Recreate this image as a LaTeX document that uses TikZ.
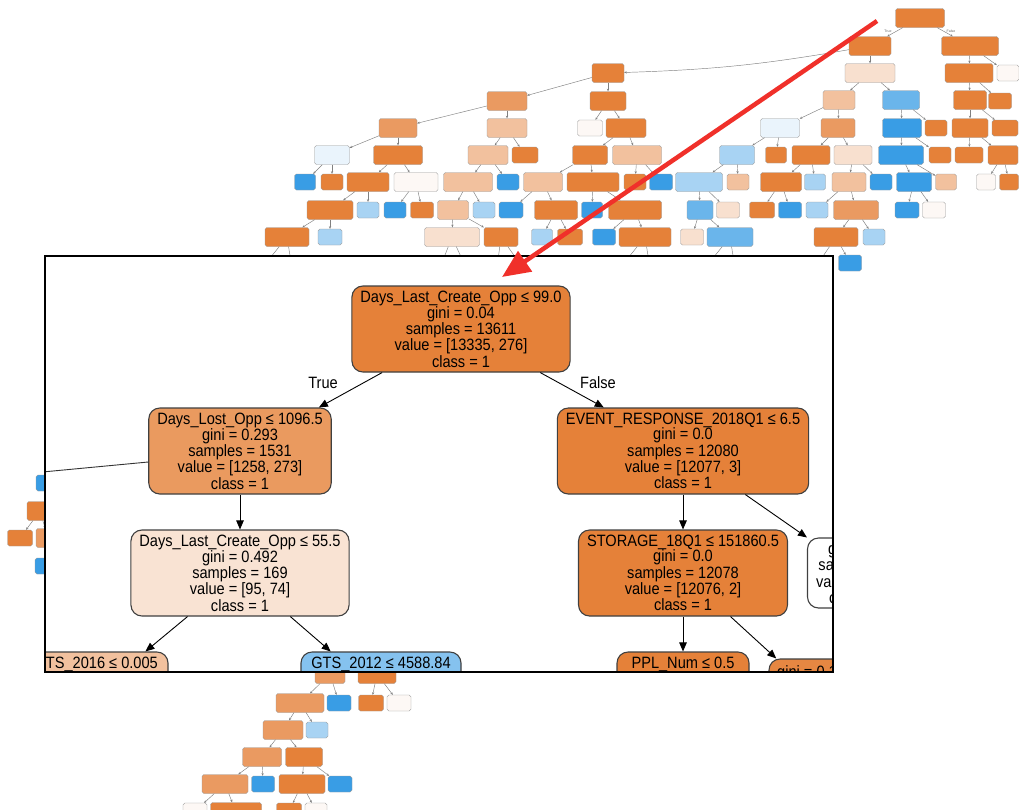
\documentclass[tikz,border=0pt]{standalone}
\usepackage{fontspec}
\setmainfont{Liberation Sans}
\newfontfamily\bigff{Liberation Sans}[FakeStretch=0.89]
\usetikzlibrary{arrows.meta}
\definecolor{cO}{HTML}{E58139}
\definecolor{cO2}{HTML}{EA9A61}
\definecolor{cO3}{HTML}{F2C19E}
\definecolor{cO4}{HTML}{F8E0CF}
\definecolor{cW}{HTML}{FDF8F5}
\definecolor{cB}{HTML}{399DE5}
\definecolor{cB2}{HTML}{6AB5EB}
\definecolor{cB3}{HTML}{A8D3F3}
\definecolor{cB4}{HTML}{EAF4FC}
\definecolor{cLa}{HTML}{EA9A5F}
\definecolor{cLc}{HTML}{F9E3D3}
\definecolor{cLf}{HTML}{F2C19E}
\definecolor{cLg}{HTML}{85C2EF}
\definecolor{cLi}{HTML}{E68742}
\definecolor{redc}{HTML}{F0302A}
\newcommand{\bigf}{\bigff\fontsize{16.4pt}{15.2pt}\selectfont}
\newcommand{\mytn}[5]{\node[tn,minimum width=#4pt,fill=#5] (#1) at (#2,#3) {};}
\newcommand{\mytl}[5]{\node[tlf,minimum width=#4pt,fill=#5] (#1) at (#2,#3) {};}
\newcommand{\myte}[2]{\draw[tedge] (#1) -- (#2);}
\begin{document}
\begin{tikzpicture}[x=1pt,y=-1pt,
  tn/.style={rectangle, rounded corners=1.8pt, draw=black!40, line width=0.35pt, minimum height=19pt, inner sep=0pt},
  tlf/.style={tn, minimum height=16pt},
  tedge/.style={draw=black!50, line width=0.45pt, -{Stealth[length=2.6pt,width=2.2pt]}},
  bn/.style={rectangle, draw=black!75, line width=1.1pt, rounded corners=11pt, align=center, inner xsep=8.5pt, inner ysep=3pt, font=\bigf, minimum height=86pt},
  btx/.style={font=\bigf, inner sep=0pt},
  bedge/.style={draw=black, line width=0.9pt, -{Triangle[length=9pt,width=7.5pt]}},
  bline/.style={draw=black!80, line width=0.9pt},
  tlab/.style={font=\fontsize{3.5pt}{4pt}\selectfont, text=black!60, inner sep=0pt},
  redarrow/.style={draw=redc, line width=4.5pt, -{Triangle[length=28pt,width=24pt]}}
]
\useasboundingbox (0,0) rectangle (1019,809);
\fill[white] (0,0) rectangle (1019,809);
% ---------- small background tree: right part ----------
\mytn{t0}{920}{18}{49}{cO}
\mytn{tA}{870}{46}{42}{cO}
\mytn{tB}{970}{46}{57}{cO}
\mytn{tC}{870}{73}{50}{cO4}
\mytn{tD}{969}{73}{48}{cO}
\mytl{tE}{1008}{73}{22}{cW}
\mytn{tF}{839}{100}{32}{cO3}
\mytn{tG}{901}{100}{37}{cB2}
\mytn{tH}{970}{100}{33}{cO}
\mytl{tI}{1000}{101}{23}{cO}
\mytn{tV}{780}{128}{39}{cB4}
\mytn{tW}{838}{128}{34}{cO2}
\mytn{tX}{902}{128}{39}{cB}
\mytl{tY}{936}{128}{22}{cO}
\mytn{tHa}{970}{128}{36}{cO}
\mytl{tHb}{1005}{128}{26}{cO}
\mytn{ta1}{737}{155}{35}{cB3}
\mytl{ta2}{776}{155}{21}{cO}
\mytn{ta3}{811}{155}{38}{cO}
\mytn{ta4}{853}{155}{38}{cO4}
\mytn{ta5}{901}{155}{45}{cB}
\mytl{ta6}{940}{155}{22}{cO}
\mytl{ta7}{969}{155}{28}{cO}
\mytn{ta8}{1003}{155}{30}{cO}
\mytn{tb1}{699}{182}{47}{cB3}
\mytl{tb2}{738}{182}{22}{cO3}
\mytn{tb3}{781}{182}{41}{cO}
\mytl{tb4}{815}{182}{21}{cB3}
\mytn{tb5}{849}{182}{34}{cO3}
\mytl{tb6}{881}{182}{22}{cB}
\mytn{tb7}{914}{182}{35}{cB}
\mytl{tb8}{946}{182}{21}{cO3}
\mytl{tb9}{986}{182}{19}{cW}
\mytl{tb10}{1009}{182}{19}{cO}
\mytn{tc1}{700}{210}{26}{cB2}
\mytl{tc2}{728}{210}{23}{cO4}
\mytl{tc3}{762}{210}{25}{cO}
\mytl{tc4}{790}{210}{23}{cB}
\mytl{tc5}{817}{210}{22}{cB3}
\mytn{tc6}{856}{210}{45}{cO2}
\mytl{tc7}{907}{210}{24}{cB}
\mytl{tc8}{934}{210}{23}{cW}
\mytl{td1}{692}{237}{23}{cO4}
\mytn{td2}{730}{237}{46}{cB2}
\mytn{td3}{836}{237}{44}{cO}
\mytl{td4}{874}{237}{22}{cB3}
\mytl{te1}{850}{263}{23}{cB}
% ---------- small tree: middle part ----------
\mytn{tP}{608}{73}{32}{cO}
\mytn{tQ}{507}{101}{40}{cO2}
\mytn{tR}{608}{101}{36}{cO}
\mytn{tS}{398}{128}{38}{cO2}
\mytn{tQb}{507}{128}{40}{cO3}
\mytl{tRa}{590}{128}{25}{cW}
\mytn{tRb}{626}{128}{40}{cO}
\mytn{tf1}{332}{155}{35}{cB4}
\mytn{tf2}{398}{155}{49}{cO}
\mytn{tf3}{488}{155}{40}{cO3}
\mytl{tf4}{525}{155}{26}{cO}
\mytn{tf5}{590}{155}{35}{cO}
\mytn{tf6}{637}{155}{49}{cO3}
\mytl{tg1}{305}{182}{21}{cB}
\mytl{tg2}{332}{182}{22}{cO}
\mytn{tg3}{368}{182}{42}{cO}
\mytn{tg4}{416}{182}{44}{cW}
\mytn{tg5}{468}{182}{49}{cO3}
\mytl{tg6}{508}{182}{22}{cB}
\mytn{tg7}{543}{182}{39}{cO3}
\mytn{tg8}{593}{182}{52}{cO}
\mytl{tg9}{635}{182}{22}{cO}
\mytl{tg10}{661}{182}{23}{cB}
\mytn{tj1}{330}{210}{46}{cO}
\mytl{tj2}{368}{210}{22}{cB3}
\mytl{tj3}{395}{210}{22}{cB}
\mytl{tj4}{422}{210}{23}{cO}
\mytn{tj5}{453}{210}{31}{cO3}
\mytl{tj6}{484}{210}{22}{cB3}
\mytl{tj7}{511}{210}{24}{cB}
\mytn{tj8}{556}{210}{43}{cO}
\mytl{tj9}{592}{210}{21}{cB}
\mytn{tj10}{635}{210}{53}{cO}
\mytn{ti0}{287}{237}{44}{cO}
\mytl{ti1}{330}{237}{24}{cB3}
\mytn{ti2}{452}{237}{55}{cO4}
\mytn{ti3}{501}{237}{34}{cO}
\mytl{ti4}{542}{237}{21}{cB3}
\mytl{ti5}{570}{237}{25}{cO}
\mytl{ti6}{604}{237}{23}{cB}
\mytn{ti7}{645}{237}{52}{cO}
\coordinate (hz1) at (262,268);
\coordinate (hz2) at (292,268);
\coordinate (hz3) at (440,268);
\coordinate (hz4) at (466,268);
\coordinate (hz5) at (497,268);
\coordinate (hz6) at (523,268);
\coordinate (hz7) at (620,268);
\coordinate (hz8) at (650,268);
\coordinate (hz9) at (705,268);
\coordinate (hz10) at (735,268);
\coordinate (hz11) at (815,268);
% ---------- small tree: left and bottom parts ----------
\mytl{v1}{47}{483}{22}{cB}
\mytn{v2}{40}{511}{26}{cO}
\mytl{v3}{20}{538}{25}{cO}
\mytn{v4}{48}{538}{24}{cO2}
\mytl{v5}{46}{566}{22}{cB}
\mytn{u1}{330}{674}{30}{cO2}
\mytn{u2}{377}{674}{38}{cO}
\mytn{um1}{300}{703}{48}{cO2}
\mytl{um2}{339}{703}{24}{cB}
\mytl{um3}{371}{703}{25}{cO}
\mytl{um4}{399}{703}{24}{cW}
\mytn{un1}{283}{730}{40}{cO2}
\mytl{un2}{317}{730}{22}{cB3}
\mytn{uo1}{262}{757}{39}{cO2}
\mytn{uo2}{304}{757}{37}{cO}
\mytn{up1}{225}{784}{46}{cO2}
\mytl{up2}{263}{784}{23}{cB}
\mytn{up3}{302}{784}{46}{cO}
\mytl{up4}{340}{784}{24}{cB}
\mytl{uq1}{195}{811}{24}{cW}
\mytn{uq2}{236}{812}{51}{cO}
\mytl{uq3}{289}{811}{25}{cO}
\mytl{uq4}{316}{811}{22}{cW}
% ---------- small tree edges ----------
\myte{t0}{tA} \myte{t0}{tB}
\draw[tedge] (tA) to[bend left=4] (tP);
\myte{tA}{tC} \myte{tB}{tD} \myte{tB}{tE}
\myte{tC}{tF} \myte{tC}{tG} \myte{tD}{tH} \myte{tD}{tI}
\myte{tF}{tV} \myte{tF}{tW} \myte{tG}{tX} \myte{tG}{tY}
\myte{tH}{tHa} \myte{tH}{tHb}
\myte{tV}{ta1} \myte{tV}{ta2} \myte{tW}{ta3} \myte{tW}{ta4}
\myte{tX}{ta5} \myte{tX}{ta6} \myte{tHa}{ta7} \myte{tHa}{ta8}
\myte{ta1}{tb1} \myte{ta1}{tb2} \myte{ta3}{tb3} \myte{ta3}{tb4}
\myte{ta4}{tb5} \myte{ta4}{tb6} \myte{ta5}{tb7} \myte{ta5}{tb8}
\myte{ta8}{tb9} \myte{ta8}{tb10}
\myte{tb1}{tc1} \myte{tb1}{tc2} \myte{tb3}{tc3} \myte{tb3}{tc4}
\myte{tb5}{tc5} \myte{tb5}{tc6} \myte{tb7}{tc7} \myte{tb7}{tc8}
\myte{tc1}{td1} \myte{tc1}{td2} \myte{tc6}{td3} \myte{tc6}{td4}
\myte{td3}{te1} \myte{td3}{hz11} \myte{td2}{hz9} \myte{td2}{hz10}
\myte{tP}{tQ} \myte{tP}{tR}
\myte{tQ}{tS} \myte{tQ}{tQb} \myte{tR}{tRa} \myte{tR}{tRb}
\myte{tS}{tf1} \myte{tS}{tf2} \myte{tQb}{tf3} \myte{tQb}{tf4}
\myte{tRb}{tf5} \myte{tRb}{tf6}
\myte{tf1}{tg1} \myte{tf1}{tg2} \myte{tf2}{tg3} \myte{tf2}{tg4}
\myte{tf3}{tg5} \myte{tf3}{tg6} \myte{tf5}{tg7} \myte{tf5}{tg8}
\myte{tf6}{tg9} \myte{tf6}{tg10}
\myte{tg3}{tj1} \myte{tg3}{tj2} \myte{tg4}{tj3} \myte{tg4}{tj4}
\myte{tg5}{tj5} \myte{tg5}{tj6} \myte{tg7}{tj7} \myte{tg7}{tj8}
\myte{tg8}{tj9} \myte{tg8}{tj10}
\myte{tj1}{ti0} \myte{tj1}{ti1} \myte{tj5}{ti2} \myte{tj5}{ti3}
\myte{tj8}{ti4} \myte{tj8}{ti5} \myte{tj10}{ti6} \myte{tj10}{ti7}
\myte{ti0}{hz1} \myte{ti0}{hz2} \myte{ti2}{hz3} \myte{ti2}{hz4}
\myte{ti3}{hz5} \myte{ti3}{hz6} \myte{ti7}{hz7} \myte{ti7}{hz8}
\myte{v2}{v3} \myte{v2}{v4}
\myte{u1}{um1} \myte{u1}{um2} \myte{u2}{um3} \myte{u2}{um4}
\myte{um1}{un1} \myte{um1}{un2} \myte{un1}{uo1} \myte{un1}{uo2}
\myte{uo1}{up1} \myte{uo1}{up2} \myte{uo2}{up3} \myte{uo2}{up4}
\myte{up1}{uq1} \myte{up1}{uq2} \myte{up3}{uq3} \myte{up3}{uq4}
\node[tlab] (tTr) at (888,31) {True};
\node[tlab] (tFa) at (951,31) {False};
% ---------- enlarged inset ----------
\fill[white] (45,256) rectangle (833,672);
\begin{scope}
\clip (45,256) rectangle (833,672);
\node[bn, fill=cO] (n0) at (461,329) {Days\_Last\_Create\_Opp ≤ 99.0\\gini = 0.04\\samples = 13611\\value = [13335, 276]\\class = 1};
\node[bn, fill=cLa] (n1) at (240,451) {Days\_Lost\_Opp ≤ 1096.5\\gini = 0.293\\samples = 1531\\value = [1258, 273]\\class = 1};
\node[bn, fill=cO] (n2) at (683,451) {EVENT\_RESPONSE\_2018Q1 ≤ 6.5\\gini = 0.0\\samples = 12080\\value = [12077, 3]\\class = 1};
\node[bn, fill=cLc] (n3) at (240,573) {Days\_Last\_Create\_Opp ≤ 55.5\\gini = 0.492\\samples = 169\\value = [95, 74]\\class = 1};
\node[bn, fill=cO] (n4) at (683,573) {STORAGE\_18Q1 ≤ 151860.5\\gini = 0.0\\samples = 12078\\value = [12076, 2]\\class = 1};
\node[bn, fill=white, minimum height=70pt] (n5) at (858,573) {gini = 0.5\\samples = 2\\value = [1, 1]\\class = 0};
\node[bn, fill=cLf, minimum width=150pt] (n6) at (93,695) {};
\node[btx, anchor=base east] (n6t) at (158,668) {GTS\_2016 ≤ 0.005};
\node[bn, fill=cLg, minimum width=160pt] (n7) at (381,695) {};
\node[btx, anchor=base] (n7t) at (381,668) {GTS\_2012 ≤ 4588.84};
\node[bn, fill=cO, minimum width=132pt] (n8) at (683,695) {};
\node[btx, anchor=base] (n8t) at (683,668) {PPL\_Num ≤ 0.5};
\node[bn, fill=cLi, minimum width=92pt, minimum height=70pt] (n9) at (815,694) {};
\node[btx, anchor=base west] (n9t) at (777,677) {gini = 0.1};
\draw[bedge] (n0) -- (n1);
\draw[bedge] (n0) -- (n2);
\draw[bedge] (n1) -- (n3);
\draw[bedge] (n2) -- (n4);
\draw[bedge] (n2) -- (n5);
\draw[bedge] (n3) -- (n6);
\draw[bedge] (n3) -- (n7);
\draw[bedge] (n4) -- (n8);
\draw[bedge] (n4) -- (n9);
\coordinate (nl) at (0,476);
\draw[bline] ([yshift=-11pt]n1.west) -- (nl);
\node[btx] (lt) at (323,383) {True};
\node[btx] (lf) at (598,383) {False};
\end{scope}
\draw[line width=2.2pt] (45,256) rectangle (833,672);
% ---------- red arrow ----------
\coordinate (ra) at (877,21);
\coordinate (rb) at (502,277);
\draw[redarrow] (ra) -- (rb);
\end{tikzpicture}
\end{document}
